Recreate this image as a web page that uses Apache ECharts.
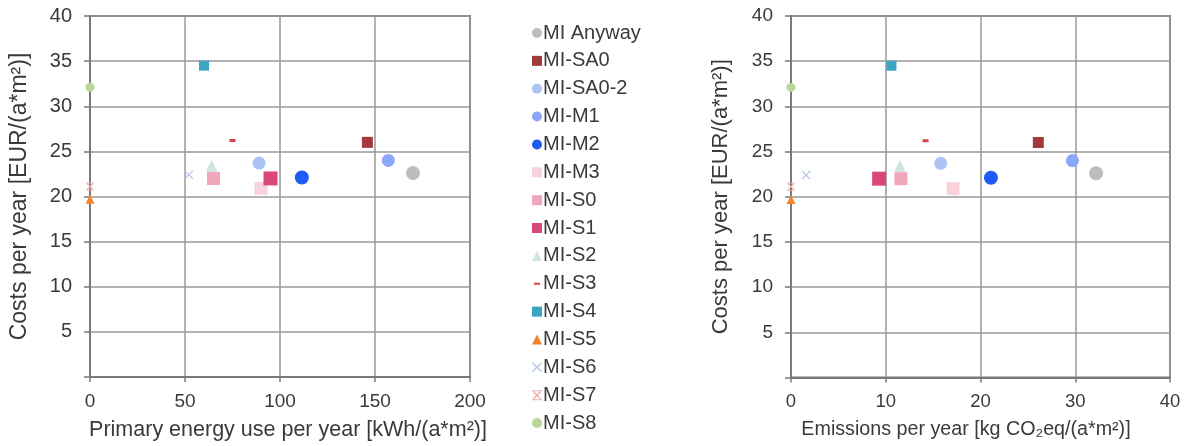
<!DOCTYPE html>
<html><head><meta charset="utf-8">
<script src="https://cdn.jsdelivr.net/npm/echarts@6/dist/echarts.min.js"></script>
<style>html,body{margin:0;padding:0;background:#fff}#c{width:1190px;height:446px}</style>
</head><body><div id="c"></div>
<script>
// ---- data ----
const names = ['MI Anyway','MI-SA0','MI-SA0-2','MI-M1','MI-M2','MI-M3','MI-S0','MI-S1','MI-S2','MI-S3','MI-S4','MI-S5','MI-S6','MI-S7','MI-S8'];
const energy    = [170, 146, 89, 157, 111.5, 90, 65, 95, 64, 75, 60, 0, 52, 0, 0];
const emissions = [32.2, 26.1, 15.8, 29.7, 21.1, 17.1, 11.6, 9.3, 11.5, 14.2, 10.6, 0, 1.6, 0, 0];
const costs     = [22.6, 26.0, 23.7, 24.0, 22.1, 20.9, 22.0, 22.0, 23.4, 26.2, 34.5, 19.7, 22.4, 21.1, 32.1];
const energyTicks = [0, 50, 100, 150, 200];
const emissionTicks = [0, 10, 20, 30, 40];
const costTicks = [0, 5, 10, 15, 20, 25, 30, 35, 40];

// ---- styles ----
const CROSS = 'path://M0,1L1,0L5,4L9,0L10,1L6,5L10,9L9,10L5,6L1,10L0,9L4,5Z';
const STAR = 'path://M0,0h10v1h-10zM0,9h10v1h-10zM1,1L2,1L5,4L8,1L9,1L9,2L6,5L9,8L9,9L8,9L5,6L2,9L1,9L1,8L4,5L1,2Z';
const DASH_LEGEND = 'path://M0,0M10,10M2,4h6v2h-6z';
const style = {
  'MI Anyway': {c:'#bdbdbd', s:'circle', z:14},
  'MI-SA0':    {c:'#a33a3a', s:'rect', z:11},
  'MI-SA0-2':  {c:'#abc4f5', s:'circle', z:13},
  'MI-M1':     {c:'#8aa7fa', s:'circle', z:13},
  'MI-M2':     {c:'#1f5bf5', s:'circle', z:14},
  'MI-M3':     {c:'#f8d3dc', s:'rect', z:13},
  'MI-S0':     {c:'#f2a6bb', s:'rect', z:13},
  'MI-S1':     {c:'#d9487c', s:'rect', z:14},
  'MI-S2':     {c:'#cde6e2', s:'triangle', z:12, back:true},
  'MI-S3':     {c:'#d64545', s:'rect', z:[6,3], li:DASH_LEGEND},
  'MI-S4':     {c:'#3ba5c4', s:'rect', z:10},
  'MI-S5':     {c:'#f5832b', s:'triangle', z:9},
  'MI-S6':     {c:'#b5c6ea', s:CROSS, z:9},
  'MI-S7':     {c:'#eeb0b0', s:STAR, z:8},
  'MI-S8':     {c:'#b9d59a', s:'circle', z:9}
};

const FONT = '"Liberation Sans", Arial, "DejaVu Sans", sans-serif';
const TXT = '#3a3a3a';

function xAxis(gridIndex, ticks, name, nameSize, pad, labelSize) {
  return {
    type:'value', gridIndex, min:ticks[0], max:ticks[ticks.length-1], interval:ticks[1]-ticks[0],
    name, nameLocation:'middle', nameGap:42,
    nameTextStyle:{fontFamily:FONT, fontSize:nameSize, color:TXT, padding:pad},
    axisLine:{show:true, lineStyle:{color:'#7a7a7a', width:2}},
    axisTick:{show:true, inside:false, length:5, lineStyle:{color:'#7a7a7a', width:1.5}},
    axisLabel:{fontFamily:FONT, fontSize:labelSize, color:TXT, margin:15},
    splitLine:{show:true, lineStyle:{color:'#999999', width:1.5}}
  };
}
function yAxis(gridIndex, nameSize, labelSize) {
  return {
    type:'value', gridIndex, min:costTicks[0], max:costTicks[costTicks.length-1], interval:costTicks[1]-costTicks[0],
    name:'Costs per year [EUR/(a*m²)]', nameLocation:'middle', nameGap:59,
    nameTextStyle:{fontFamily:FONT, fontSize:nameSize, color:TXT},
    axisLine:{show:true, lineStyle:{color:'#7a7a7a', width:2}},
    axisTick:{show:true, inside:false, length:6, lineStyle:{color:'#7a7a7a', width:1.5}},
    axisLabel:{fontFamily:FONT, fontSize:labelSize, color:TXT, margin:18, formatter:v => v===0 ? '' : String(v)},
    splitLine:{show:true, lineStyle:{color:'#999999', width:1.5}}
  };
}

const series = [];
names.forEach((n,i) => {
  const st = style[n];
  [[energy,0],[emissions,1]].forEach(([xs,g]) => {
    series.push({
      type:'scatter', name:n, xAxisIndex:g, yAxisIndex:g,
      data:[[xs[i], costs[i]]],
      symbol:st.s, symbolSize:st.z, z: st.back ? 1 : 2,
      itemStyle:{color:st.c, opacity:1},
      emphasis:{disabled:true}, silent:true
    });
  });
});

const chart = echarts.init(document.getElementById('c'));
chart.setOption({
  animation:false,
  backgroundColor:'#fff',
  grid:[
    {left:90, top:16, width:380, height:361.5, show:true, borderColor:'#7a7a7a', borderWidth:2},
    {left:791, top:16, width:379, height:361.5, show:true, borderColor:'#7a7a7a', borderWidth:2}
  ],
  xAxis:[
    xAxis(0, energyTicks, 'Primary energy use per year [kWh/(a*m²)]', 21.5, [0,0,0,16], 19),
    xAxis(1, emissionTicks, 'Emissions per year [kg CO₂eq/(a*m²)]', 19.7, [0,29,0,0], 18.5)
  ],
  yAxis:[yAxis(0, 23, 20), yAxis(1, 22, 19)],
  legend:{
    orient:'vertical', left:532, top:23, padding:0, itemGap:7.86, itemWidth:10, itemHeight:10,
    textStyle:{fontFamily:FONT, fontSize:20, color:TXT, padding:[0,0,0,-4]},
    selectedMode:false,
    data:names.map(n => style[n].li ? {name:n, icon:style[n].li} : {name:n})
  },
  series
});
</script></body></html>
